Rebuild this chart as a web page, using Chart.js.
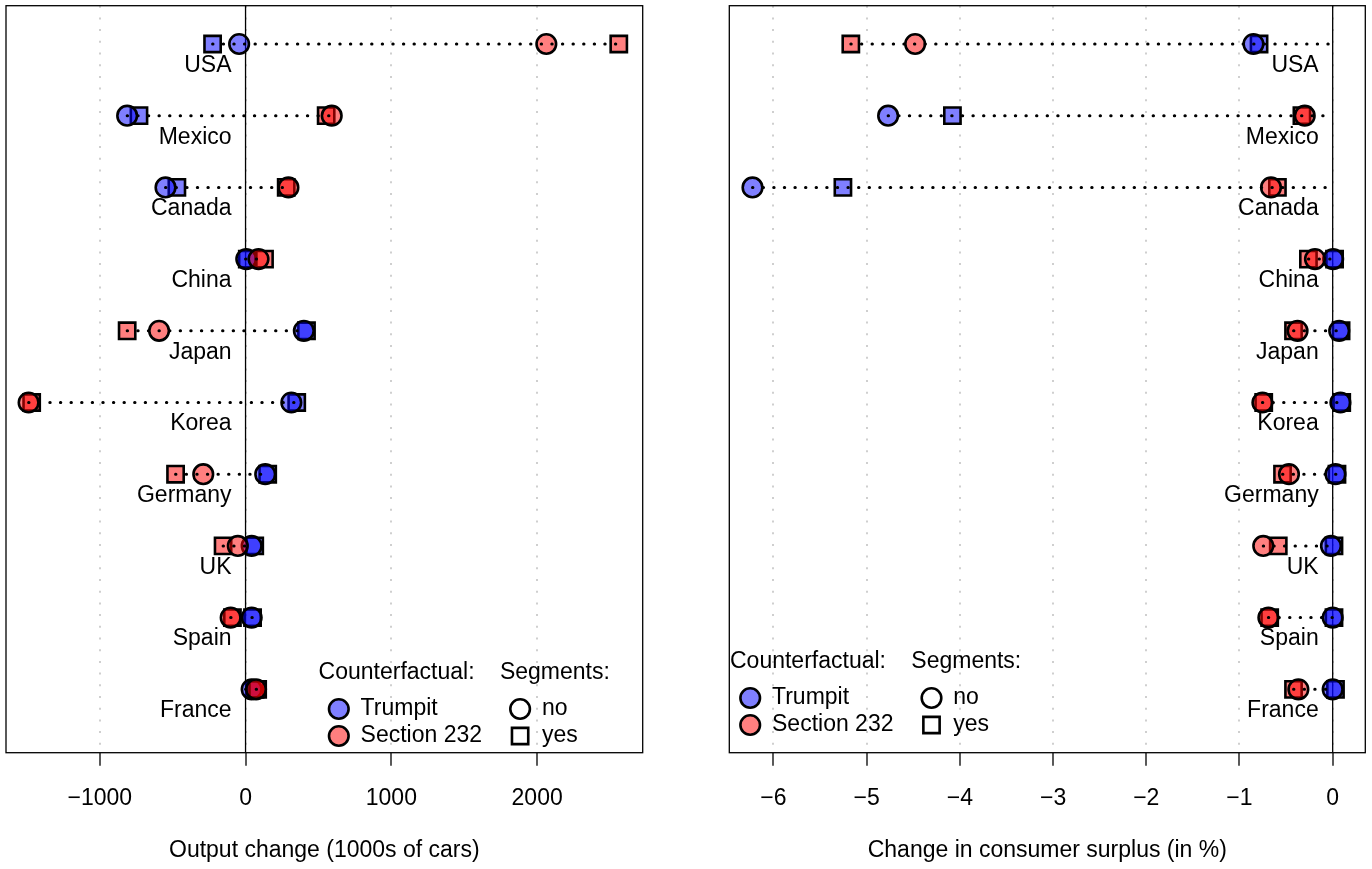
<!DOCTYPE html>
<html>
<head>
<meta charset="utf-8">
<title>Output change and consumer surplus by country</title>
<script src="https://cdn.jsdelivr.net/npm/chart.js@4.4.0/dist/chart.umd.min.js"></script>
<style>
  html, body { margin: 0; padding: 0; background: #fff; }
  #wrap { position: relative; width: 1372px; height: 869px; }
  #wrap canvas { position: absolute; top: 0; }
</style>
</head>
<body>
<div id="wrap">
  <canvas id="outputChart" width="686" height="869" style="left:0"></canvas>
  <canvas id="surplusChart" width="686" height="869" style="left:686px"></canvas>
</div>
<script>
// --- Data ---
const countries = ['USA', 'Mexico', 'Canada', 'China', 'Japan', 'Korea', 'Germany', 'UK', 'Spain', 'France'];
const rowPos = [10, 9, 8, 7, 6, 5, 4, 3, 2, 1];
const rowRange = [0.116, 10.534];

// Output change (1000s of cars)
const outTrumpNo  = [-44, -812, -549, 5, 400, 314, 135, 42, 42, 42];
const outTrumpSeg = [-226, -731, -471, 12, 418, 351, 152, 63, 48, 65];
const outS232No   = [2063, 591, 294, 89, -593, -1488, -290, -53, -102, 72];
const outS232Seg  = [2560, 553, 279, 130, -812, -1467, -480, -154, -90, 83];
const outTicks = [-1000, 0, 1000, 2000];
const outRange = [-1643, 2724];

// Change in consumer surplus (in %)
const csTrumpNo  = [-0.85, -4.77, -6.225, 0.005, 0.07, 0.083, 0.03, -0.018, 0.0, 0.0];
const csTrumpSeg = [-0.79, -4.08, -5.255, 0.02, 0.09, 0.097, 0.046, 0.014, 0.014, 0.03];
const csS232No   = [-4.48, -0.30, -0.662, -0.19, -0.377, -0.754, -0.469, -0.745, -0.69, -0.368];
const csS232Seg  = [-5.17, -0.33, -0.593, -0.26, -0.42, -0.74, -0.538, -0.584, -0.676, -0.42];
const csTicks = [-6, -5, -4, -3, -2, -1, 0];
const csRange = [-6.474, 0.35];

const counterLabels = ['Trumpit', 'Section 232'];
const segmentLabels = ['no', 'yes'];

// --- Styling ---
const FONT = "'Liberation Sans', Arial, Helvetica, sans-serif";
const FONT_SIZE = 23;
const BLUE = 'rgba(0, 0, 255, 0.5)';
const RED = 'rgba(255, 0, 0, 0.5)';
const CIRCLE_R = 9.8;
const RECT_R = 11.5;
const MARK_LW = 2.6;

Chart.defaults.font.family = FONT;
Chart.defaults.color = '#000';

// --- Helpers ---
function toPoints(values) {
    return values.map((v, i) => ({ x: v, y: rowPos[i] }));
}

function formatTick(v) {
    return v < 0 ? '\u2212' + Math.abs(v) : String(v);
}

function markerSet(label, values, color, style, order) {
    return {
        label: label,
        data: toPoints(values),
        backgroundColor: color,
        borderColor: '#000',
        borderWidth: MARK_LW,
        pointStyle: style,
        pointRadius: style === 'rect' ? RECT_R : CIRCLE_R,
        showLine: false,
        order: order
    };
}

// dotted segment per country, spanning all four results and zero
function rowLines(series) {
    return rowPos.map((y, i) => {
        const vals = series.map(s => s[i]).concat(0);
        return {
            label: 'row ' + countries[i],
            data: [{ x: Math.min(...vals), y: y }, { x: Math.max(...vals), y: y }],
            showLine: true,
            pointRadius: 0,
            borderColor: '#000',
            borderWidth: 3,
            borderDash: [0.4, 10.2],
            borderCapStyle: 'round',
            order: 0,
            clip: 0
        };
    });
}

function drawMarker(ctx, style, x, y, fill) {
    ctx.beginPath();
    if (style === 'circle') {
        ctx.arc(x, y, CIRCLE_R, 0, Math.PI * 2);
    } else {
        const h = RECT_R * Math.SQRT1_2;
        ctx.rect(x - h, y - h, 2 * h, 2 * h);
    }
    if (fill) {
        ctx.fillStyle = fill;
        ctx.fill();
    }
    ctx.lineWidth = MARK_LW;
    ctx.strokeStyle = '#000';
    ctx.stroke();
}

// --- Panel decorations: zero line, box, country names, legend ---
const panelDecor = {
    id: 'panelDecor',
    beforeDatasetsDraw(chart) {
        const { ctx, chartArea: a, scales: { x } } = chart;
        const x0 = x.getPixelForValue(0);
        ctx.save();
        ctx.strokeStyle = '#000';
        ctx.lineWidth = 1.3;
        ctx.beginPath();
        ctx.moveTo(x0, a.top);
        ctx.lineTo(x0, a.bottom);
        ctx.stroke();
        ctx.restore();
    },
    afterDatasetsDraw(chart, args, opts) {
        const { ctx, chartArea: a, scales: { x, y } } = chart;
        ctx.save();
        ctx.strokeStyle = '#000';
        ctx.lineWidth = 1.3;
        ctx.strokeRect(a.left, a.top, a.width, a.height);

        ctx.font = FONT_SIZE + 'px ' + FONT;
        ctx.fillStyle = '#000';
        ctx.textAlign = 'right';
        ctx.textBaseline = 'middle';
        const x0 = x.getPixelForValue(0);
        countries.forEach((name, i) => {
            ctx.fillText(name, x0 - 14, y.getPixelForValue(rowPos[i]) + 21.5);
        });

        // legend
        const lx = a.left + opts.legendX;
        const ly = a.top + opts.legendY;
        const colGap = 181.3;
        ctx.textAlign = 'left';
        ctx.fillStyle = '#000';
        ctx.fillText('Counterfactual:', lx, ly);
        ctx.fillText('Segments:', lx + colGap, ly);
        const fills = [BLUE, RED];
        const styles = ['circle', 'rect'];
        for (let k = 0; k < 2; k++) {
            const ey = ly + 36 + k * 27;
            drawMarker(ctx, 'circle', lx + 20.2, ey, fills[k]);
            drawMarker(ctx, styles[k], lx + colGap + 20.2, ey, null);
            ctx.fillStyle = '#000';
            ctx.fillText(counterLabels[k], lx + 42, ey);
            ctx.fillText(segmentLabels[k], lx + colGap + 42, ey);
        }
        ctx.restore();
    }
};

function createPanel(canvasId, series, range, ticks, title, padding, legendPos) {
    const ctx = document.getElementById(canvasId).getContext('2d');
    const datasets = rowLines(series).concat([
        markerSet('Section 232, no', series[2], RED, 'circle', 1),
        markerSet('Section 232, yes', series[3], RED, 'rect', 2),
        markerSet('Trumpit, no', series[0], BLUE, 'circle', 3),
        markerSet('Trumpit, yes', series[1], BLUE, 'rect', 4)
    ]);

    return new Chart(ctx, {
        type: 'scatter',
        data: { datasets: datasets },
        options: {
            responsive: false,
            animation: false,
            events: [],
            layout: { padding: padding, autoPadding: false },
            scales: {
                x: {
                    type: 'linear',
                    min: range[0],
                    max: range[1],
                    afterBuildTicks: s => { s.ticks = ticks.map(v => ({ value: v })); },
                    afterFit: s => { s.height = 116.3; },
                    grid: {
                        color: '#cfcfcf', lineWidth: 2,
                        drawTicks: true, tickLength: 13, tickColor: '#000', tickWidth: 1.3
                    },
                    border: { display: false, dash: [2, 9.7] },
                    ticks: {
                        color: '#000', font: { size: FONT_SIZE }, padding: 19,
                        maxRotation: 0, autoSkip: false, callback: v => formatTick(v)
                    },
                    title: {
                        display: true, text: title, color: '#000',
                        font: { size: FONT_SIZE }, padding: { top: 0, bottom: 5 }
                    }
                },
                y: { display: false, min: rowRange[0], max: rowRange[1] }
            },
            plugins: {
                legend: { display: false },
                tooltip: { enabled: false },
                panelDecor: legendPos
            }
        },
        plugins: [panelDecor]
    });
}

createPanel('outputChart',
    [outTrumpNo, outTrumpSeg, outS232No, outS232Seg],
    outRange, outTicks, 'Output change (1000s of cars)',
    { left: 6, right: 43.3, top: 5.7, bottom: 0 },
    { legendX: 312.6, legendY: 667.3 });

createPanel('surplusChart',
    [csTrumpNo, csTrumpSeg, csS232No, csS232Seg],
    csRange, csTicks, 'Change in consumer surplus (in %)',
    { left: 43.3, right: 6.7, top: 5.7, bottom: 0 },
    { legendX: 0.7, legendY: 656.3 });
</script>
</body>
</html>
